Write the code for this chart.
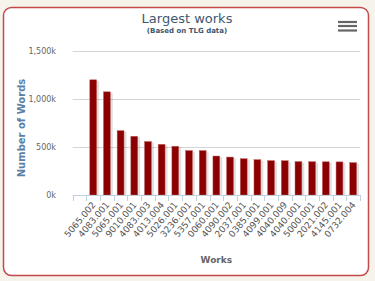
<!DOCTYPE html>
<html>
<head>
<meta charset="utf-8">
<script src="https://cdn.jsdelivr.net/npm/d3@7"></script>
<style>
  html, body { margin: 0; padding: 0; background: #f5f3ea; }
  svg { display: block; font-family: "DejaVu Sans", Verdana, sans-serif; }
</style>
</head>
<body>
<div class="canvas"></div>
<script>
const works = [
  "5065.002", "4083.001", "5065.001", "9010.001", "4083.003",
  "4013.004", "5026.001", "3236.001", "5357.001", "0060.001",
  "4090.002", "2037.001", "0385.001", "4099.001", "4040.009",
  "4040.001", "5000.001", "2021.002", "4145.001", "0732.004"
];
const wordCounts = [
  1200000, 1075000, 670000, 612000, 557000,
  528000, 508000, 463000, 463000, 406000,
  395000, 378000, 368000, 358000, 357000,
  348000, 347000, 346000, 345000, 337000
];
const yTicks = [0, 500000, 1000000, 1500000];

const width = 375;
const height = 281;
const plot = { left: 72.7, right: 360, top: 51, bottom: 195 };

const svg = d3
  .select(".canvas")
  .append("svg")
  .attr("width", width)
  .attr("height", height);

// card
svg
  .append("rect")
  .attr("x", 3.5)
  .attr("y", 7.5)
  .attr("width", 365)
  .attr("height", 268)
  .attr("rx", 8)
  .attr("fill", "#ffffff")
  .attr("stroke", "#c4494a")
  .attr("stroke-width", 1.5);

// the first slot of the axis is left empty in the original
const step = (plot.right - plot.left) / (works.length + 1);
const x = d3
  .scaleBand()
  .domain(works)
  .range([plot.left + step, plot.right])
  .paddingInner(0.5)
  .paddingOuter(0.25);

const y = d3
  .scaleLinear()
  .domain([0, 1500000])
  .range([plot.bottom, plot.top]);

// grid
svg
  .append("g")
  .selectAll("line")
  .data(yTicks.slice(1))
  .enter()
  .append("line")
  .attr("x1", plot.left)
  .attr("x2", plot.right)
  .attr("y1", (d) => Math.round(y(d)) + 0.5)
  .attr("y2", (d) => Math.round(y(d)) + 0.5)
  .attr("stroke", "#d6d6d6")
  .attr("stroke-width", 1);

// y labels
svg
  .append("g")
  .selectAll("text")
  .data(yTicks)
  .enter()
  .append("text")
  .attr("x", 56)
  .attr("y", (d) => y(d) + 3)
  .attr("text-anchor", "end")
  .style("font-size", "8px")
  .style("fill", "#666")
  .text((d) => d3.format(",")(d / 1000) + "k");

// y title
svg
  .append("text")
  .attr("transform", `translate(25,${(plot.top + plot.bottom) / 2 + 5}) rotate(-90)`)
  .attr("text-anchor", "middle")
  .style("font-size", "10px")
  .style("font-weight", "bold")
  .style("fill", "#5b80a8")
  .text("Number of Words");

// bars with soft shadow
const bars = svg.append("g");
bars
  .selectAll("rect.shadow")
  .data(works)
  .enter()
  .append("rect")
  .attr("class", "shadow")
  .attr("x", (d) => x(d) + 1)
  .attr("y", (d, i) => y(wordCounts[i]) + 1)
  .attr("width", x.bandwidth() + 1.5)
  .attr("height", (d, i) => plot.bottom - y(wordCounts[i]) - 1)
  .attr("fill", "#000")
  .attr("opacity", 0.12);

bars
  .selectAll("rect.bar")
  .data(works)
  .enter()
  .append("rect")
  .attr("class", "bar")
  .attr("x", (d) => x(d))
  .attr("y", (d, i) => y(wordCounts[i]))
  .attr("width", x.bandwidth())
  .attr("height", (d, i) => plot.bottom - y(wordCounts[i]))
  .attr("fill", "#8b0000")
  .attr("stroke", "#c06060")
  .attr("stroke-width", 0.5);

// x axis line and ticks
const xAxis = svg.append("g").attr("stroke", "#c0d0e0");
xAxis
  .append("line")
  .attr("x1", plot.left)
  .attr("x2", plot.right)
  .attr("y1", plot.bottom + 0.5)
  .attr("y2", plot.bottom + 0.5);
const tickPos = [plot.left].concat(works.map((d) => x(d) - x.step() * x.paddingInner() / 2), [plot.right]);
xAxis
  .selectAll("line.tick")
  .data(tickPos)
  .enter()
  .append("line")
  .attr("class", "tick")
  .attr("x1", (d) => Math.round(d) + 0.5)
  .attr("x2", (d) => Math.round(d) + 0.5)
  .attr("y1", plot.bottom)
  .attr("y2", plot.bottom + 6);

// x labels
svg
  .append("g")
  .selectAll("text")
  .data(works)
  .enter()
  .append("text")
  .attr("transform", (d) => `translate(${x(d) + x.bandwidth() / 2 + 3},${plot.bottom + 10}) rotate(-50)`)
  .attr("text-anchor", "end")
  .style("font-size", "9px")
  .style("fill", "#555")
  .text((d) => d);

// x title
svg
  .append("text")
  .attr("x", (plot.left + plot.right) / 2)
  .attr("y", 263)
  .attr("text-anchor", "middle")
  .style("font-size", "9px")
  .style("font-weight", "bold")
  .style("fill", "#666")
  .text("Works");

// titles
svg
  .append("text")
  .attr("x", 187)
  .attr("y", 23)
  .attr("text-anchor", "middle")
  .style("font-size", "13px")
  .style("fill", "#3e576f")
  .text("Largest works");

svg
  .append("text")
  .attr("x", 187)
  .attr("y", 33)
  .attr("text-anchor", "middle")
  .style("font-size", "7px")
  .style("font-weight", "bold")
  .style("fill", "#3e576f")
  .text("(Based on TLG data)");

// menu icon
svg
  .append("g")
  .selectAll("line")
  .data([22, 26, 30.5])
  .enter()
  .append("line")
  .attr("x1", 338)
  .attr("x2", 357)
  .attr("y1", (d) => d)
  .attr("y2", (d) => d)
  .attr("stroke", "#666")
  .attr("stroke-width", 2.2);
</script>
</body>
</html>
